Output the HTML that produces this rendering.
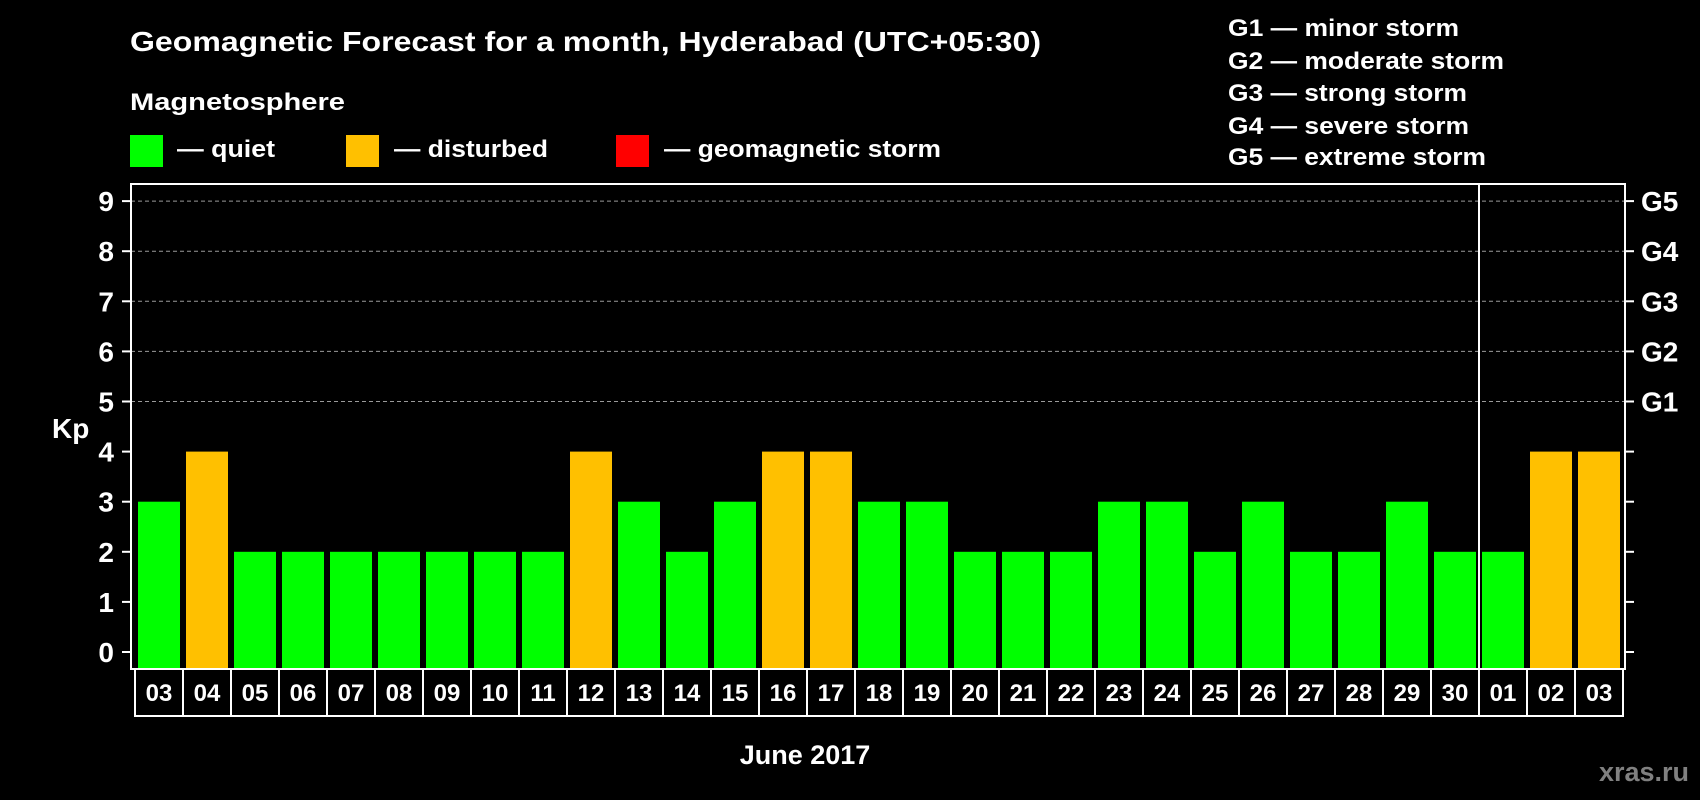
<!DOCTYPE html>
<html><head><meta charset="utf-8"><style>
html,body{margin:0;padding:0;background:#000;}
svg{display:block;font-family:"Liberation Sans",Arial,sans-serif;font-weight:bold;}
</style></head><body>
<svg id="chart" width="1700" height="800" viewBox="0 0 1700 800">
<rect x="0" y="0" width="1700" height="800" fill="#000"/>
<text x="130" y="51" font-size="28" fill="#fff" textLength="911" lengthAdjust="spacingAndGlyphs">Geomagnetic Forecast for a month, Hyderabad (UTC+05:30)</text>
<text x="130" y="110" font-size="24" fill="#fff" textLength="215" lengthAdjust="spacingAndGlyphs">Magnetosphere</text>
<g>
<rect x="130" y="135" width="33" height="32" fill="#00ff00"/>
<text x="177" y="157" font-size="24" fill="#fff" textLength="98" lengthAdjust="spacingAndGlyphs">— quiet</text></g>
<g>
<rect x="346" y="135" width="33" height="32" fill="#ffc000"/>
<text x="394" y="157" font-size="24" fill="#fff" textLength="154" lengthAdjust="spacingAndGlyphs">— disturbed</text></g>
<g>
<rect x="616" y="135" width="33" height="32" fill="#ff0000"/>
<text x="664" y="157" font-size="24" fill="#fff" textLength="277" lengthAdjust="spacingAndGlyphs">— geomagnetic storm</text></g>
<g font-size="24" fill="#fff">
<text x="1228" y="36" textLength="231" lengthAdjust="spacingAndGlyphs">G1 — minor storm</text>
<text x="1228" y="69" textLength="276" lengthAdjust="spacingAndGlyphs">G2 — moderate storm</text>
<text x="1228" y="101" textLength="239" lengthAdjust="spacingAndGlyphs">G3 — strong storm</text>
<text x="1228" y="134" textLength="241" lengthAdjust="spacingAndGlyphs">G4 — severe storm</text>
<text x="1228" y="165" textLength="258" lengthAdjust="spacingAndGlyphs">G5 — extreme storm</text>
</g>
<g id="grid"></g>
<g id="bars"></g>
<rect x="131" y="184" width="1494" height="485" fill="none" stroke="#fff" stroke-width="2"/>
<line x1="1479" y1="184" x2="1479" y2="716" stroke="#fff" stroke-width="2"/>
<g id="axes"></g>
<g id="dates"></g>
<text x="52" y="438" font-size="28" fill="#fff">Kp</text>
<text x="805" y="764" font-size="27" fill="#fff" text-anchor="middle">June 2017</text>
<text x="1689" y="781" font-size="27" fill="#808080" text-anchor="end">xras.ru</text>
</svg>
<script>
const dates = ["03","04","05","06","07","08","09","10","11","12","13","14","15","16","17","18","19","20","21","22","23","24","25","26","27","28","29","30","01","02","03"];
const kpValues = [3,4,2,2,2,2,2,2,2,4,3,2,3,4,4,3,3,2,2,2,3,3,2,3,2,2,3,2,2,4,4];
const yTicks = [0,1,2,3,4,5,6,7,8,9];
const gLabels = ["G1","G2","G3","G4","G5"];
const NS = "http://www.w3.org/2000/svg";
function yScale(v){ return 652 - v*50.1; }
function xScale(i){ return 138 + i*48; }
function mk(tag, attrs, parent){ const e=document.createElementNS(NS,tag); for(const k in attrs) e.setAttribute(k,attrs[k]); parent.appendChild(e); return e; }
function colorFor(v){ return v>=5 ? "#ff0000" : (v>=4 ? "#ffc000" : "#00ff00"); }
const grid=document.getElementById("grid"), bars=document.getElementById("bars"), axes=document.getElementById("axes"), dg=document.getElementById("dates");
yTicks.forEach(function(t){
  const y=yScale(t);
  if(t>=5){
    const gl=mk("line",{x1:131,x2:1625,y1:y,y2:y,stroke:"#9a9a9a","stroke-width":1,"stroke-dasharray":"4,3"},grid);
    
    
  }
  const tl=mk("line",{x1:122,x2:131,y1:y,y2:y,stroke:"#fff","stroke-width":2},axes);
  
  
  const tr=mk("line",{x1:1625,x2:1634,y1:y,y2:y,stroke:"#fff","stroke-width":2},axes);
  
  
  const lb=mk("text",{x:114,y:y+10,"font-size":28,fill:"#fff","text-anchor":"end"},axes);
  lb.textContent=t;
  
  
});
gLabels.forEach(function(g,i){
  const y=yScale(5+i);
  const lb=mk("text",{x:1641,y:y+10,"font-size":28,fill:"#fff"},axes);
  lb.textContent=g;
  
  
});
kpValues.forEach(function(v,i){
  const y=yScale(v);
  const r=mk("rect",{x:xScale(i),y:y,width:42,height:668-y,fill:colorFor(v)},bars);
  
  
});
dates.forEach(function(d,i){
  const bx=xScale(i)-3;
  const b=mk("rect",{x:bx,y:669,width:48,height:47,fill:"#000",stroke:"#fff","stroke-width":2},dg);
  
  
  const t=mk("text",{x:bx+24,y:701,"font-size":24,fill:"#fff","text-anchor":"middle"},dg);
  t.textContent=d;
  
  
});
</script>
</body></html>
